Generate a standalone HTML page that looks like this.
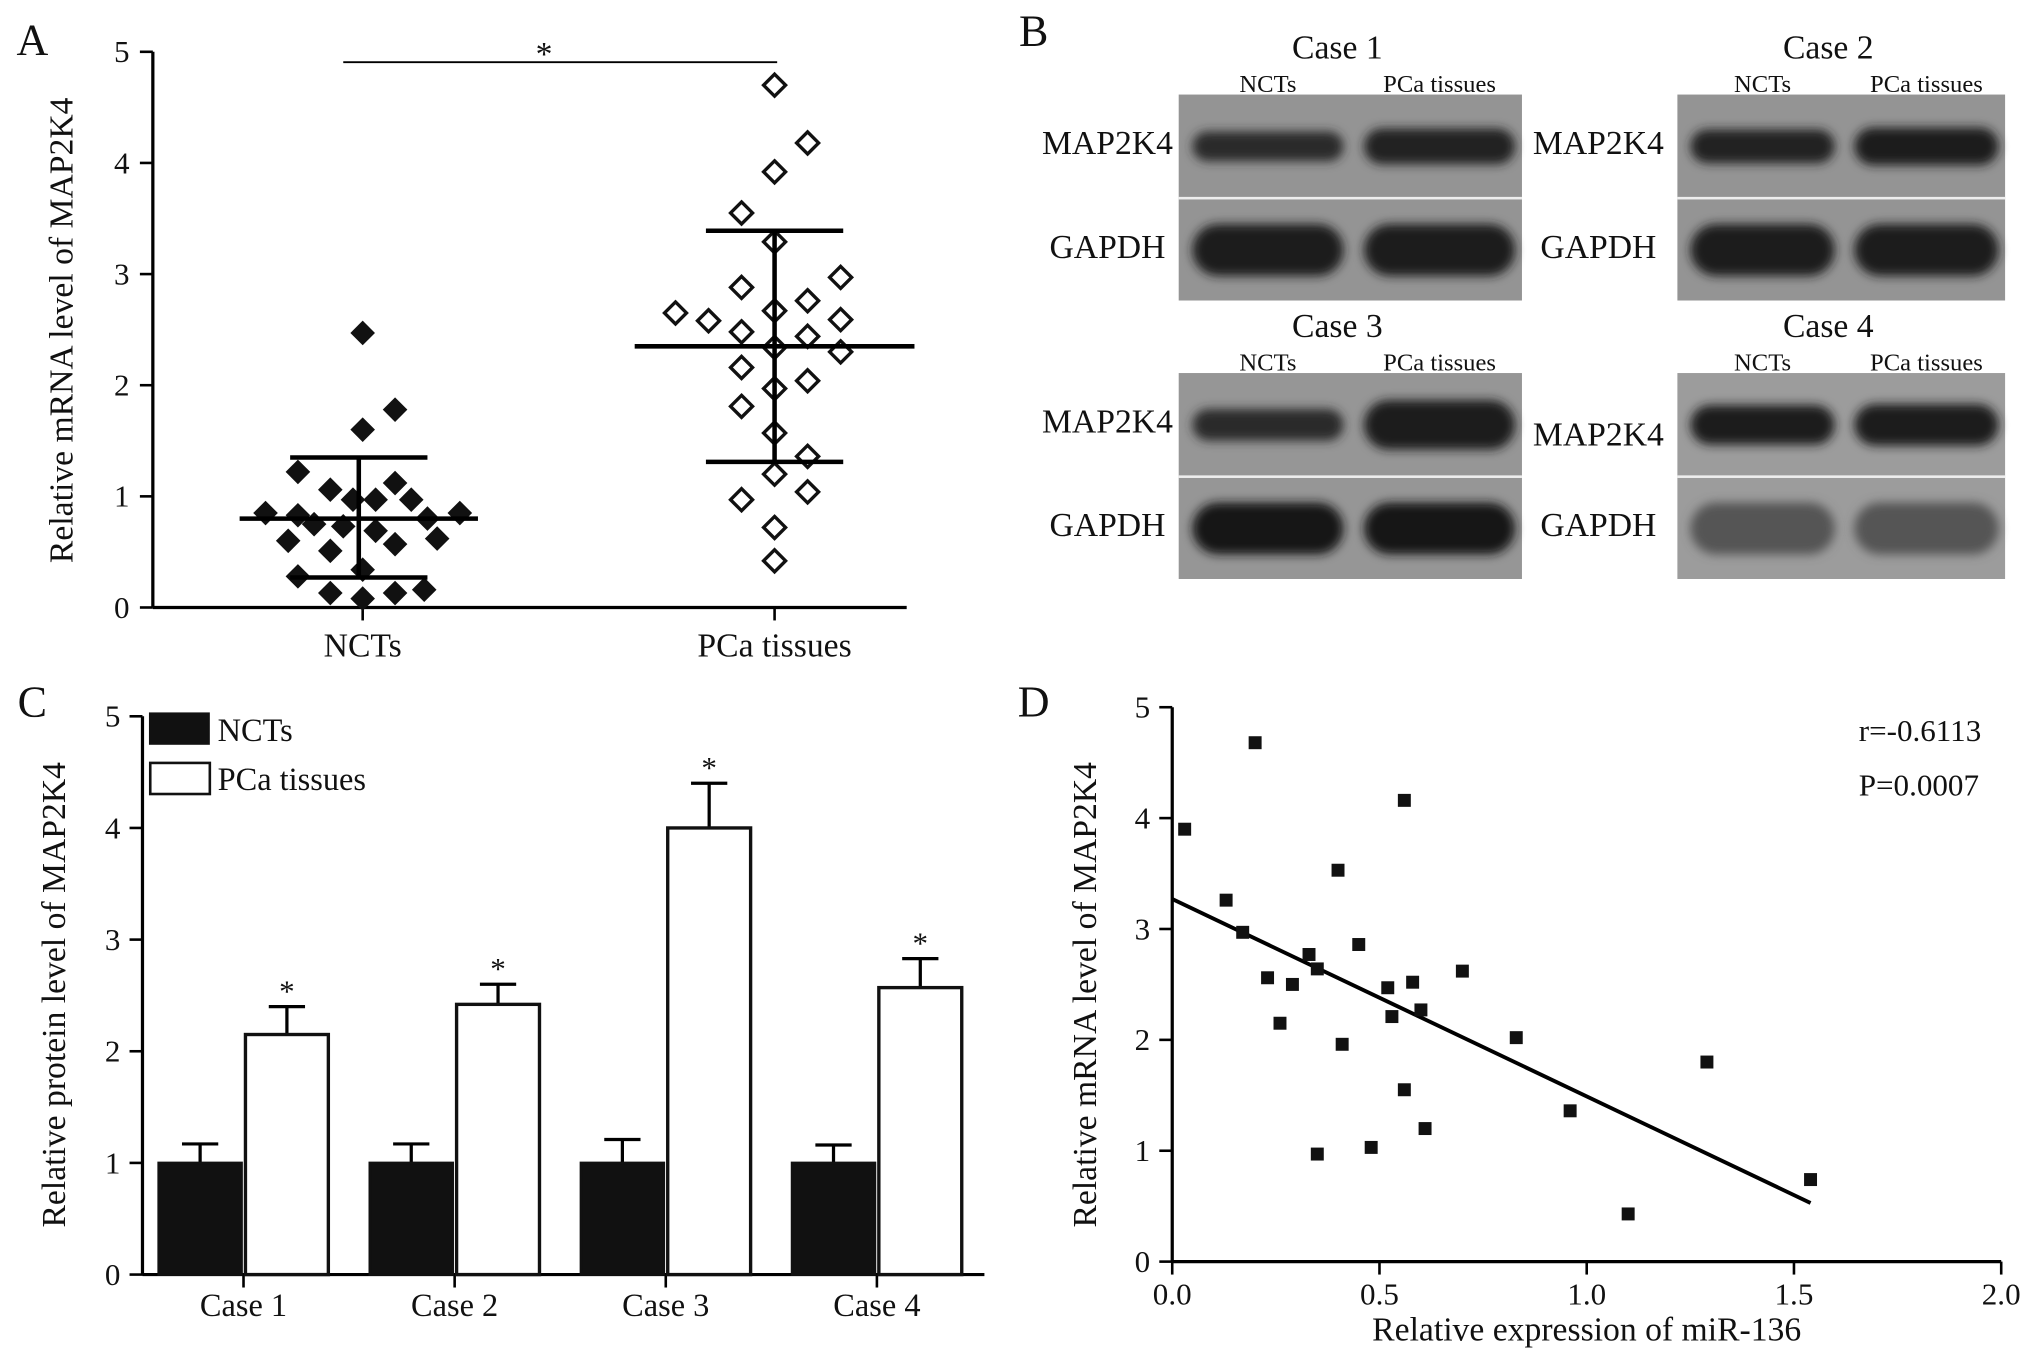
<!DOCTYPE html>
<html><head><meta charset="utf-8"><style>
html,body{margin:0;padding:0;background:#fff;}
svg{display:block;font-family:"Liberation Serif",serif;}
</style></head><body>
<svg id="fig" width="2031" height="1362" viewBox="0 0 1568 1051.5" preserveAspectRatio="none" xmlns="http://www.w3.org/2000/svg">
<defs>
<filter id="blur" x="-20%" y="-50%" width="140%" height="200%"><feGaussianBlur stdDeviation="4"/></filter>
</defs>
<g id="pA"></g>
<g id="pB"></g>
<g id="pC"></g>
<g id="pD"></g>
</svg>
<script>
// Panel A data
const aGroups=["NCTs","PCa tissues"];
const aNCT=[2.47,1.78,1.6,1.22,1.06,1.12,0.97,0.97,0.85,0.83,0.97,0.85,0.75,0.73,0.8,0.69,0.6,0.51,0.57,0.62,0.28,0.34,0.13,0.08,0.13,0.16];
const aNCTx=[0,1,0,-2,-1,1,-0.3,0.4,-3,-2,1.5,3,-1.5,-0.6,2,0.4,-2.3,-1,1,2.3,-2,0,-1,0,1,1.9];
const aPCa=[4.7,4.18,3.92,3.55,3.29,2.97,2.88,2.76,2.65,2.58,2.67,2.48,2.59,2.44,2.34,2.3,2.16,2.04,1.97,1.81,1.57,1.36,1.2,0.97,1.04,0.72,0.42];
const aPCax=[0,1,0,-1,0,2,-1,1,-3,-2,0,-1,2,1,0,2,-1,1,0,-1,0,1,0,-1,1,0,0];
const aMean=[0.8,2.35];
const aSDhi=[1.35,3.39];
const aSDlo=[0.27,1.31];
const aTicks=[0,1,2,3,4,5];
// Panel C data
const cCases=["Case 1","Case 2","Case 3","Case 4"];
const cNCT=[1,1,1,1];
const cNCTerr=[0.17,0.17,0.21,0.16];
const cPCa=[2.15,2.42,4.0,2.57];
const cPCaerr=[0.25,0.18,0.4,0.26];
// Panel D data
const dX=[0.03,0.2,0.13,0.17,0.23,0.29,0.26,0.4,0.33,0.35,0.45,0.41,0.56,0.52,0.58,0.53,0.6,0.7,0.83,0.56,0.35,0.48,0.61,0.96,1.29,1.1,1.54];
const dY=[3.9,4.68,3.26,2.97,2.56,2.5,2.15,3.53,2.77,2.64,2.86,1.96,4.16,2.47,2.52,2.21,2.27,2.62,2.02,1.55,0.97,1.03,1.2,1.36,1.8,0.43,0.74];
const dXTicks=[0,0.5,1.0,1.5,2.0];
const dYTicks=[0,1,2,3,4,5];
const dFit=[3.27,-1.78];

const NS="http://www.w3.org/2000/svg";
function mk(parent,tag,attrs,text){const e=document.createElementNS(NS,tag);for(const k in attrs)e.setAttribute(k,attrs[k]);if(text!==undefined)e.textContent=text;parent.appendChild(e);return e;}
function line(p,x1,y1,x2,y2,w){return mk(p,"line",{x1,y1,x2,y2,stroke:"#000","stroke-width":w||2});}
function txt(p,x,y,s,size,anchor,extra){return mk(p,"text",Object.assign({x,y,"font-size":size||24,"text-anchor":anchor||"middle",fill:"#111"},extra||{}),s);}

// ---------- Panel A ----------
(function(){
const g=document.getElementById("pA");
const y=v=>469-v*85.8;
const gx=[280,598];
txt(g,25,42,"A",34,"middle");
let ax=line(g,118,40,118,469,2.5);


line(g,118,469,700,469,2.5);
aTicks.forEach(t=>{line(g,108,y(t),118,y(t),2);const l=txt(g,100,y(t)+8,String(t),24,"end");

});
aGroups.forEach((s,i)=>{line(g,gx[i],469,gx[i],479,2);const l=txt(g,gx[i],507,s,26);

});
const yl=txt(g,0,0,"Relative mRNA level of MAP2K4",26,"middle",{transform:"translate(56,255) rotate(-90)"});


line(g,265,48,600,48,1.5);
const st=txt(g,420,50,"*",26);


const d=9.5;
aNCT.forEach((v,i)=>{const cx=gx[0]+aNCTx[i]*25,cy=y(v);
const p=mk(g,"polygon",{points:`${cx},${cy-d} ${cx+d},${cy} ${cx},${cy+d} ${cx-d},${cy}`,fill:"#111"});

});
aPCa.forEach((v,i)=>{const cx=gx[1]+aPCax[i]*25.5,cy=y(v);const e=8.5;
const p=mk(g,"polygon",{points:`${cx},${cy-e} ${cx+e},${cy} ${cx},${cy+e} ${cx-e},${cy}`,fill:"#fff",stroke:"#111","stroke-width":2.6});

});
const mw=[92,108],sw=[53,53];
[0,1].forEach(i=>{
 const c=gx[i]-(i==0?3:0);
 const m=line(g,c-mw[i],y(aMean[i]),c+mw[i],y(aMean[i]),3.5);
 
 
 line(g,c-sw[i],y(aSDhi[i]),c+sw[i],y(aSDhi[i]),3.5);
 line(g,c-sw[i],y(aSDlo[i]),c+sw[i],y(aSDlo[i]),3.5);
 line(g,c,y(aSDhi[i]),c,y(aSDlo[i]),3.5);
});
})();

// ---------- Panel B ----------
(function(){
const g=document.getElementById("pB");
txt(g,798,35,"B",34);
const blots=[
 {x:910,y:73,w:265,t:"Case 1",bg:"#949494",mb:[["#2a2a2a",0.3],["#222",0.45]],gd:["#1e1e1e","#1e1e1e"]},
 {x:1295,y:73,w:253,t:"Case 2",bg:"#949494",mb:[["#222",0.4],["#1e1e1e",0.5]],gd:["#1a1a1a","#1a1a1a"]},
 {x:910,y:288,w:265,t:"Case 3",bg:"#969696",mb:[["#2a2a2a",0.35],["#1a1a1a",0.8]],gd:["#181818","#181818"]},
 {x:1295,y:288,w:253,t:"Case 4",bg:"#9c9c9c",mb:[["#1e1e1e",0.55],["#1e1e1e",0.6]],gd:["#555","#555"]}
];
blots.forEach((b,bi)=>{
 const bg=mk(g,"rect",{x:b.x,y:b.y,width:b.w,height:159,fill:b.bg});
 
 
 mk(g,"rect",{x:b.x,y:b.y+79,width:b.w,height:2,fill:"#eee"});
 const ct=txt(g,b.x+b.w/2-10,b.y-28,b.t,26);
 
 
 const lx=[b.x+b.w*0.26,b.x+b.w*0.76];
 txt(g,lx[0],b.y-2,"NCTs",19);txt(g,lx[1],b.y-2,"PCa tissues",19);
 const right=b.x>1200;
 const ml=txt(g,right?1234:855,b.y+(bi==3?56:46),"MAP2K4",26);
 
 
 const gl=txt(g,right?1234:855,b.y+126,"GAPDH",26);
 
 
 const bw=b.w*0.44;
 [0,1].forEach(j=>{
  const h=14+b.mb[j][1]*30;
  mk(g,"rect",{x:lx[j]-bw/2,y:b.y+40-h/2,width:bw,height:h,rx:h/2,fill:b.mb[j][0],filter:"url(#blur)"});
  mk(g,"rect",{x:lx[j]-bw/2,y:b.y+120-20,width:bw,height:40,rx:20,fill:b.gd[j],filter:"url(#blur)"});
 });
});
})();

// ---------- Panel C ----------
(function(){
const g=document.getElementById("pC");
const y=v=>984-v*86.2;
txt(g,25,553,"C",34);
line(g,110,553,110,984,2.5);line(g,110,984,760,984,2.5);
aTicks.forEach(t=>{line(g,100,y(t),110,y(t),2);const l=txt(g,93,y(t)+8,String(t),24,"end");

});
const yl=txt(g,0,0,"Relative protein level of MAP2K4",26,"middle",{transform:"translate(50,768) rotate(-90)"});


const centers=[188,351,514,677],bw=64;
cCases.forEach((c,i)=>{
 const cx=centers[i];
 line(g,cx,984,cx,994,2);
 const l=txt(g,cx,1016,c,25);
 
 
 const n0=cx-bw-1.5;
 line(g,n0+bw/2,y(cNCT[i]+cNCTerr[i]),n0+bw/2,y(cNCT[i]),2.5);
 line(g,n0+bw/2-14,y(cNCT[i]+cNCTerr[i]),n0+bw/2+14,y(cNCT[i]+cNCTerr[i]),2.5);
 const r1=mk(g,"rect",{x:n0,y:y(cNCT[i]),width:bw,height:y(0)-y(cNCT[i]),fill:"#111",stroke:"#111","stroke-width":2});
 
 
 const p0=cx+1.5;
 line(g,p0+bw/2,y(cPCa[i]+cPCaerr[i]),p0+bw/2,y(cPCa[i]),2.5);
 line(g,p0+bw/2-14,y(cPCa[i]+cPCaerr[i]),p0+bw/2+14,y(cPCa[i]+cPCaerr[i]),2.5);
 const r2=mk(g,"rect",{x:p0,y:y(cPCa[i]),width:bw,height:y(0)-y(cPCa[i]),fill:"#fff",stroke:"#111","stroke-width":2.6});
 
 
 const s=txt(g,p0+bw/2,y(cPCa[i]+cPCaerr[i])-4,"*",24);
 
 
});
const lg=mk(g,"g",{});


mk(lg,"rect",{x:115,y:550,width:47,height:25,fill:"#111"});
mk(lg,"rect",{x:116,y:589,width:46,height:24,fill:"#fff",stroke:"#111","stroke-width":2});
txt(lg,168,572,"NCTs",25,"start");
txt(lg,168,610,"PCa tissues",25,"start");
})();

// ---------- Panel D ----------
(function(){
const g=document.getElementById("pD");
const x=v=>905+v*320,y=v=>974-v*85.6;
txt(g,798,553,"D",34);
line(g,905,546,905,974,2.5);line(g,905,974,1545,974,2.5);
dYTicks.forEach(t=>{line(g,895,y(t),905,y(t),2);const l=txt(g,888,y(t)+8,String(t),24,"end");

});
dXTicks.forEach(t=>{line(g,x(t),974,x(t),984,2);const l=txt(g,x(t),1007,t.toFixed(1),24);

});
const xl=txt(g,1225,1035,"Relative expression of miR-136",26);


const yl=txt(g,0,0,"Relative mRNA level of MAP2K4",26,"middle",{transform:"translate(846,768) rotate(-90)"});


const fit=line(g,x(0),y(dFit[0]),x(1.54),y(dFit[0]+dFit[1]*1.54),3);


dX.forEach((v,i)=>{const r=mk(g,"rect",{x:x(v)-5,y:y(dY[i])-5,width:10,height:10,fill:"#111"});

});
const r1=txt(g,1435,572,"r=-0.6113",24,"start");


const r2=txt(g,1435,614,"P=0.0007",24,"start");


})();
</script>
</body></html>
